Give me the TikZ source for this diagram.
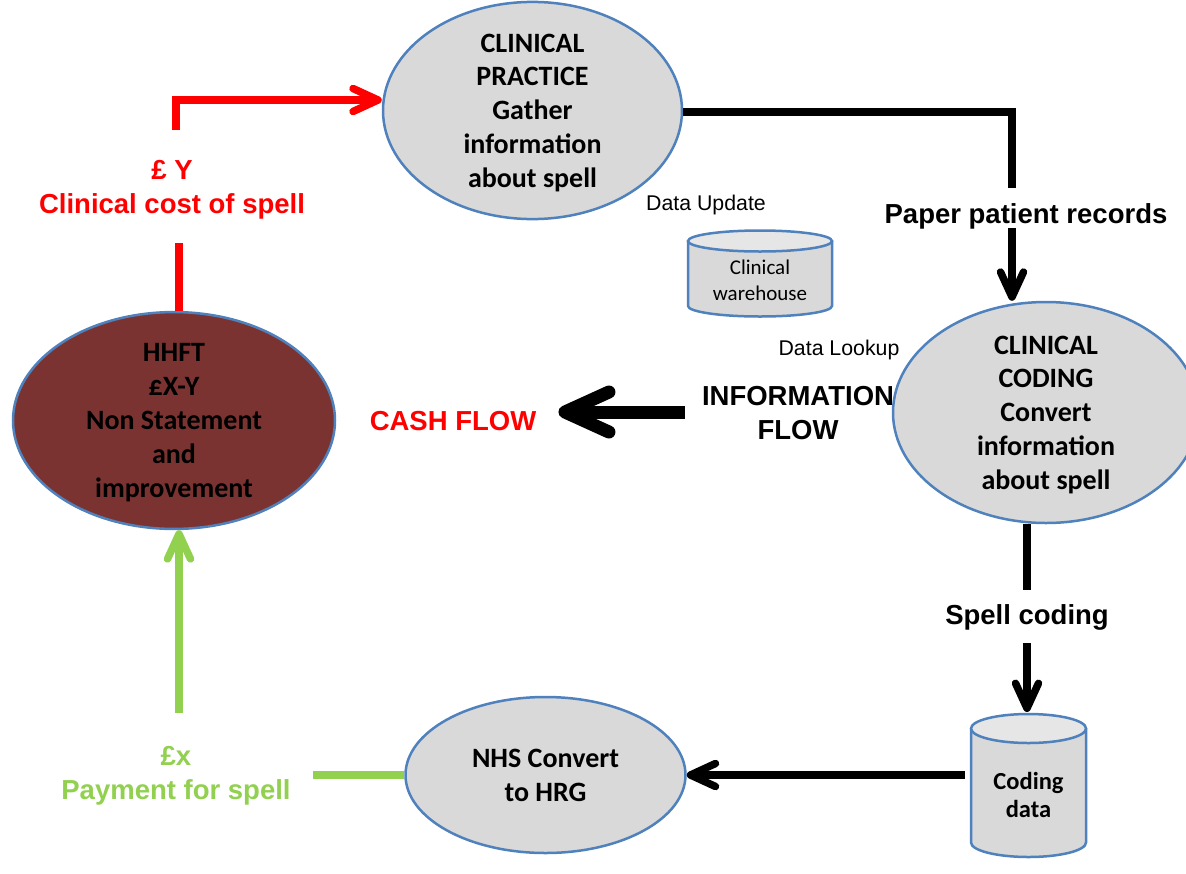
\documentclass[tikz,border=0pt]{standalone}
\usepackage{fontspec}
\setmainfont{Carlito}
\newfontfamily\arialf{Liberation Sans}
\usetikzlibrary{shapes.geometric,arrows.meta}
\definecolor{ellfill}{HTML}{D9D9D9}
\definecolor{topfill}{HTML}{E6E6E6}
\definecolor{ellline}{HTML}{4F81BD}
\definecolor{brownfill}{HTML}{7B3331}
\definecolor{cashred}{HTML}{FF0000}
\definecolor{paygreen}{HTML}{92D050}
\begin{document}
\begin{tikzpicture}[x=1pt,y=-1pt,
  proc/.style={ellipse, draw=ellline, line width=2.5pt, fill=ellfill, inner sep=0pt, align=center,
    text depth=0pt, font=\fontsize{28}{33.8}\selectfont\bfseries},
  lbl/.style={font=\arialf\fontsize{27.5}{34}\selectfont\bfseries, align=center, inner sep=0pt},
  smalllbl/.style={font=\arialf\fontsize{21.3}{24}\selectfont, inner sep=0pt},
  cylbox/.style={inner sep=0pt, align=center},
  cylline/.style={draw=ellline, line width=2.5pt},
  flow/.style={line width=7.5pt, -{Straight Barb[length=25pt,width=23pt,round]}},
  bigflow/.style={line width=13pt, -{Straight Barb[length=44pt,width=40pt,round]}},
  plain/.style={line width=7.5pt}
]
\useasboundingbox (0,0) rectangle (1186,873);

% ellipses
\node[proc, minimum width=299pt, minimum height=205pt] (cp) at (532.5,110.5)
  {CLINICAL\\PRACTICE\\Gather\\information\\about spell};
\node[proc, minimum width=306pt, minimum height=221pt] (cc) at (1046,412.5)
  {CLINICAL\\CODING\\Convert\\information\\about spell};
\node[proc, fill=brownfill, minimum width=322pt, minimum height=215pt] (hh) at (174,420.5)
  {HHFT\\\pounds X-Y\\Non Statement\\and\\improvement};
\node[proc, minimum width=280pt, minimum height=156pt] (nhs) at (545.5,775)
  {NHS Convert\\to HRG};

% clinical warehouse cylinder
\fill[ellfill] (688,241) -- (688,306) arc[start angle=180,end angle=0,x radius=72,y radius=10.5] -- (832,241) -- cycle;
\draw[cylline] (688,241) -- (688,306) arc[start angle=180,end angle=0,x radius=72,y radius=10.5] -- (832,241);
\draw[cylline, fill=topfill] (760,241) ellipse[x radius=72, y radius=10.5];
\node[cylbox, font=\fontsize{21}{26}\selectfont] (cw) at (760,280) {Clinical\\warehouse};

% coding data cylinder
\fill[ellfill] (971,728.5) -- (971,842.5) arc[start angle=180,end angle=0,x radius=57.5,y radius=14.5] -- (1086,728.5) -- cycle;
\draw[cylline] (971,728.5) -- (971,842.5) arc[start angle=180,end angle=0,x radius=57.5,y radius=14.5] -- (1086,728.5);
\draw[cylline, fill=topfill] (1028.5,728.5) ellipse[x radius=57.5, y radius=14.5];
\node[cylbox, font=\fontsize{24.5}{28}\selectfont\bfseries] (cd) at (1028.5,795) {Coding\\data};
\coordinate (cdw) at (965,775);
\coordinate (cdn) at (1027,712);

% labels
\node[lbl] (ppr) at (1026,216) {Paper patient records};
\node[lbl] (spc) at (1027,617) {Spell coding};
\node[lbl, text=cashred] (cash) at (453,421) {CASH FLOW};
\node[lbl] (inf) at (798,413) {INFORMATION\\FLOW};
\node[lbl, text=cashred] (cy) at (172,190) {\pounds\ Y\\Clinical cost of spell};
\node[lbl, text=paygreen] (px) at (176,776) {\pounds x\\Payment for spell};
\node[smalllbl] (du) at (706,205) {Data Update};
\node[smalllbl] (dl) at (839,350) {Data Lookup};

% black top connector
\coordinate (t1) at (1012,112);
\coordinate (t2) at (1012,188);
\coordinate (t3) at (1012,228);
\draw[plain, line join=miter] (cp.east |- t1) -- (t1) -- (t2);
\draw[flow] (t3) -- (t3 |- cc.north);

% spell coding
\coordinate (s1) at (1027,590);
\coordinate (s2) at (1027,643);
\draw[plain] (s1 |- cc.south) -- (s1);
\draw[flow] (s2) -- (cdn);

% coding data to NHS
\draw[flow] (cdw) -- (nhs.east);

% information flow big arrow
\coordinate (ib) at (685,412);
\draw[bigflow] (ib) -- ([xshift=22pt]cash.east |- ib);

% green payment
\coordinate (g1) at (313,775);
\coordinate (g2) at (179,713);
\draw[plain, paygreen] (nhs.west) -- (g1);
\draw[flow, paygreen] (g2) -- (g2 |- hh.south);

% red cost
\coordinate (r1) at (179,243);
\coordinate (r2) at (176,130);
\coordinate (r3) at (176,100);
\draw[plain, cashred] (r1 |- hh.north) -- (r1);
\draw[flow, cashred, line join=miter] (r2) -- (r3) -- (r3 -| cp.west);
\end{tikzpicture}
\end{document}
